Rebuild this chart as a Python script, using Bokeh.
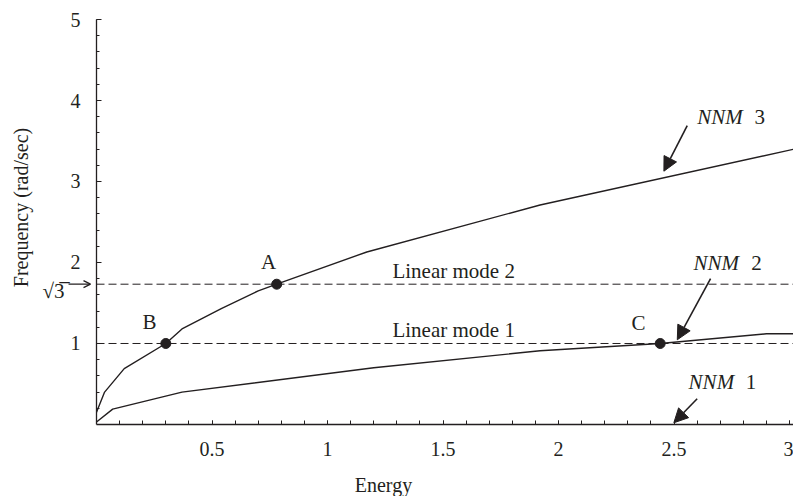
import numpy as np
from bokeh.plotting import figure
from bokeh.models import (Range1d, FixedTicker, Label, Arrow, NormalHead, OpenHead, LinearAxis)
from bokeh.embed import file_html
from bokeh.resources import INLINE

# ---- data ----
nnm3_energy = [0.0, 0.035, 0.12, 0.30, 0.37, 0.54, 0.70, 0.78, 1.17, 1.92, 3.02]
nnm3_freq = [0.15, 0.40, 0.69, 1.0, 1.18, 1.43, 1.65, 1.732, 2.13, 2.71, 3.40]

nnm2_energy = [0.0, 0.07, 0.37, 1.20, 1.92, 2.44, 2.90, 3.02]
nnm2_freq = [0.03, 0.19, 0.40, 0.70, 0.91, 1.0, 1.12, 1.12]

point_names = ["A", "B", "C"]
point_energy = [0.78, 0.30, 2.44]
point_freq = [1.732, 1.0, 1.0]
point_label_x = [0.745, 0.229, 2.346]
point_label_y = [2.01, 1.26, 1.25]

linear_mode_freq = [1.0, float(np.sqrt(3))]
linear_mode_text = ["Linear mode 1", "Linear mode 2"]
linear_mode_text_x = [1.281, 1.281]
linear_mode_text_y = [1.169, 1.90]

nnm_names = ["NNM", "NNM", "NNM"]
nnm_numbers = ["1", "2", "3"]
nnm_text_x = [2.563, 2.584, 2.60]
nnm_num_x = [2.81, 2.834, 2.848]
nnm_text_y = [0.523, 1.993, 3.795]
nnm_arrow_start = [(2.60, 0.317), (2.658, 1.80), (2.557, 3.69)]
nnm_arrow_end = [(2.499, 0.021), (2.514, 1.046), (2.456, 3.127)]

x_ticks = [0.5, 1, 1.5, 2, 2.5, 3]
x_tick_labels = ["0.5", "1", "1.5", "2", "2.5", "3"]
y_ticks = [1, 2, 3, 4, 5]
y_tick_labels = ["1", "2", "3", "4", "5"]

energy_max = 3.017
freq_max = 5.0

FONT = "Liberation Serif"
INK = "#231f20"
FS = "20px"
AFS = "21px"

# the frame fills the whole canvas; the axes are pinned at zero
p = figure(width=793, height=496, output_backend="svg", toolbar_location=None,
           x_range=Range1d(-0.4156, energy_max), y_range=Range1d(-0.889, 5.2346),
           x_axis_type=None, y_axis_type=None, min_border=0)
p.outline_line_color = None
p.grid.visible = False
p.background_fill_color = "white"
p.border_fill_color = "white"

xaxis = LinearAxis(fixed_location=0, bounds=(0, energy_max + 0.1))
yaxis = LinearAxis(fixed_location=0, bounds=(0, freq_max))
p.add_layout(xaxis, "below")
p.add_layout(yaxis, "left")

for ax in (xaxis, yaxis):
    ax.axis_line_color = INK
    ax.axis_line_width = 1.3
    ax.major_tick_line_color = INK
    ax.minor_tick_line_color = INK
    ax.major_tick_out = 0
    ax.minor_tick_out = 0
    ax.major_label_text_font = FONT
    ax.major_label_text_font_size = FS
    ax.major_label_text_color = INK

xaxis.ticker = FixedTicker(ticks=x_ticks, minor_ticks=list(np.round(np.arange(0.1, 3.01, 0.1), 3)))
xaxis.major_label_overrides = {t: l for t, l in zip(x_ticks, x_tick_labels)}
xaxis.major_tick_in = 4
xaxis.minor_tick_in = 4
xaxis.major_label_standoff = 18

yaxis.ticker = FixedTicker(ticks=y_ticks, minor_ticks=list(np.round(np.arange(0.2, 5.01, 0.2), 3)))
yaxis.major_label_overrides = {t: l for t, l in zip(y_ticks, y_tick_labels)}
yaxis.major_tick_in = 5
yaxis.minor_tick_in = 3
yaxis.major_label_standoff = 16

# linear modes (dashed)
for f in linear_mode_freq:
    p.line([0, energy_max], [f, f], line_color=INK, line_width=1, line_dash="8 4")

# curves
p.line(nnm3_energy, nnm3_freq, line_color=INK, line_width=1.4)
p.line(nnm2_energy, nnm2_freq, line_color=INK, line_width=1.4)

# points
p.scatter(point_energy, point_freq, size=10, color=INK)
for n, x, y in zip(point_names, point_label_x, point_label_y):
    p.add_layout(Label(x=x, y=y, text=n, text_font=FONT, text_font_size=AFS, text_color=INK,
                       text_align="center", text_baseline="middle"))

for t, x, y in zip(linear_mode_text, linear_mode_text_x, linear_mode_text_y):
    p.add_layout(Label(x=x, y=y, text=t, text_font=FONT, text_font_size=AFS, text_color=INK,
                       text_align="left", text_baseline="middle"))

for name, num, x, xn, y, s, e in zip(nnm_names, nnm_numbers, nnm_text_x, nnm_num_x, nnm_text_y,
                                     nnm_arrow_start, nnm_arrow_end):
    p.add_layout(Label(x=x, y=y, text=name, text_font=FONT, text_font_size=AFS,
                       text_font_style="italic", text_color=INK,
                       text_align="left", text_baseline="middle"))
    p.add_layout(Label(x=xn, y=y, text=num, text_font=FONT, text_font_size=AFS, text_color=INK,
                       text_align="left", text_baseline="middle"))
    p.add_layout(Arrow(x_start=s[0], y_start=s[1], x_end=e[0], y_end=e[1],
                       line_color=INK, line_width=1.6,
                       end=NormalHead(size=14, fill_color=INK, line_color=INK)))

# sqrt(3) marker at the left of the frequency axis
p.add_layout(Label(x=-0.1385, y=1.654, text="\u221a3\u0305", text_font=FONT, text_font_size=AFS,
                   text_color=INK, text_align="right", text_baseline="middle"))
p.add_layout(Arrow(x_start=-0.121, y_start=linear_mode_freq[1], x_end=-0.026,
                   y_end=linear_mode_freq[1], line_color=INK, line_width=1.3,
                   end=OpenHead(size=7, line_color=INK, line_width=1.3)))

# axis titles
p.add_layout(Label(x=1.242, y=-0.753, text="Energy", text_font=FONT, text_font_size=FS,
                   text_color=INK, text_align="center", text_baseline="middle"))
p.add_layout(Label(x=-0.329, y=2.679, text="Frequency (rad/sec)", text_font=FONT,
                   text_font_size=FS, text_color=INK, angle=np.pi / 2,
                   text_align="center", text_baseline="middle"))

open("out.html", "w").write(file_html(p, INLINE))
